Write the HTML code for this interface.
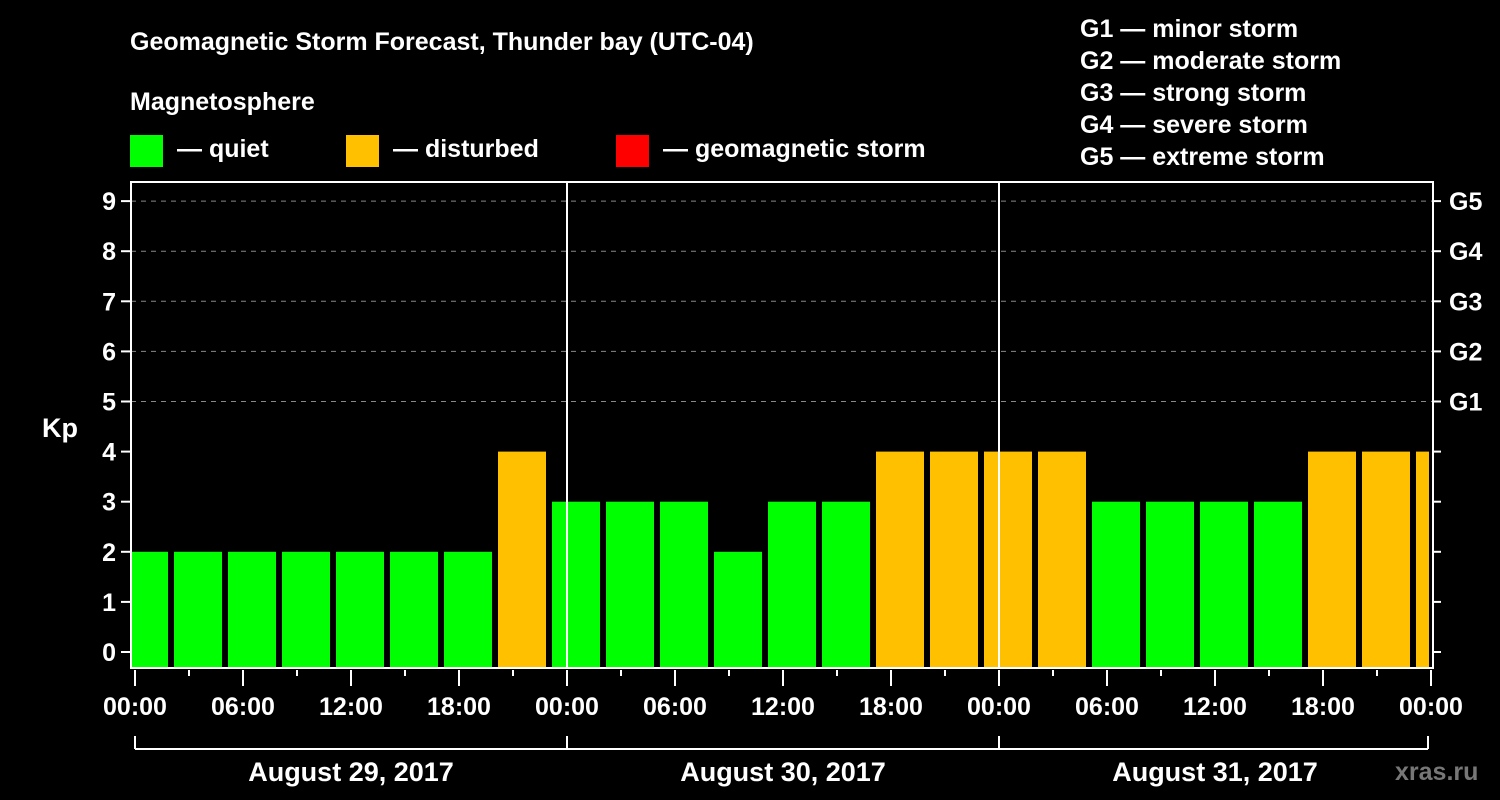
<!DOCTYPE html>
<html><head><meta charset="utf-8"><style>
html,body{margin:0;padding:0;background:#000;}
svg{display:block;font-family:"Liberation Sans",Arial,sans-serif;font-weight:bold;}
</style></head><body>
<svg id="chart" width="1500" height="800" viewBox="0 0 1500 800">
<rect width="1500" height="800" fill="#000"/>
<text x="130" y="50" fill="#fff" font-size="25">Geomagnetic Storm Forecast, Thunder bay (UTC-04)</text>
<text x="130" y="110" fill="#fff" font-size="25">Magnetosphere</text>
<g><rect x="130" y="135" width="33" height="32" fill="#00ff00"/><text x="177" y="157" fill="#fff" font-size="25">— quiet</text></g>
<g><rect x="346" y="135" width="33" height="32" fill="#ffc000"/><text x="393" y="157" fill="#fff" font-size="25">— disturbed</text></g>
<g><rect x="616" y="135" width="33" height="32" fill="#ff0000"/><text x="663" y="157" fill="#fff" font-size="25">— geomagnetic storm</text></g>
<g fill="#fff" font-size="25">
<text x="1080" y="37">G1 — minor storm</text>
<text x="1080" y="69">G2 — moderate storm</text>
<text x="1080" y="101">G3 — strong storm</text>
<text x="1080" y="133">G4 — severe storm</text>
<text x="1080" y="165">G5 — extreme storm</text>
</g>
<text x="42" y="437" fill="#fff" font-size="27">Kp</text>
<g id="grid"></g>
<g id="bars"></g>
<g id="axes"></g>
<text x="1395" y="780" fill="#777" font-size="25">xras.ru</text>
</svg>
<script>
const kpValues = [2,2,2,2,2,2,2,4, 3,3,3,2,3,3,4,4, 4,4,3,3,3,3,4,4, 4];
const yTicks = [0,1,2,3,4,5,6,7,8,9];
const gLabels = ["G1","G2","G3","G4","G5"];
const xTickLabels = ["00:00","06:00","12:00","18:00","00:00","06:00","12:00","18:00","00:00","06:00","12:00","18:00","00:00"];
const dayLabels = ["August 29, 2017","August 30, 2017","August 31, 2017"];

const NS="http://www.w3.org/2000/svg";
const L=131,R=1433,T=182,B=668,X0=135,DAY=432;
const y=v=>652-50.1*v;
const x=h=>X0+h*DAY/24;
function mk(tag,attrs,parent,txt){const e=document.createElementNS(NS,tag);for(const k in attrs)e.setAttribute(k,attrs[k]);if(txt!==undefined)e.textContent=txt;parent.appendChild(e);return e;}
const grid=document.getElementById('grid'),bars=document.getElementById('bars'),axes=document.getElementById('axes');
// clip
const defs=mk('defs',{},document.getElementById('chart'));
const cp=mk('clipPath',{id:'plotclip'},defs);mk('rect',{x:L+1,y:T,width:R-L-1-4,height:B-T},cp);
bars.setAttribute('clip-path','url(#plotclip)');
// grid
for(let v=5;v<=9;v++){const g=mk('line',{x1:L,x2:R,y1:y(v),y2:y(v),stroke:'#888','stroke-dasharray':'5,5','stroke-width':1},grid);

}
// bars
kpValues.forEach((v,i)=>{const c=v>=5?'#ff0000':(v>=4?'#ffc000':'#00ff00');
const left=x(i*3)-15;
const r=mk('rect',{x:left,y:y(v),width:48,height:B-y(v),fill:c},bars);

});
// day separators
for(let d=1;d<3;d++){const l=mk('line',{x1:x(24*d),x2:x(24*d),y1:T,y2:B,stroke:'#fff','stroke-width':2},axes);

}
// frame
const f=mk('rect',{x:L,y:T,width:R-L,height:B-T,fill:'none',stroke:'#fff','stroke-width':2},axes);


// y ticks
yTicks.forEach(v=>{mk('line',{x1:L-10,x2:L,y1:y(v),y2:y(v),stroke:'#fff','stroke-width':2},axes);
mk('line',{x1:R,x2:R+8,y1:y(v),y2:y(v),stroke:'#fff','stroke-width':2},axes);
const t=mk('text',{x:L-15,y:y(v)+9,fill:'#fff','font-size':25,'text-anchor':'end'},axes,String(v));

});
gLabels.forEach((g,i)=>{const t=mk('text',{x:1449,y:y(5+i)+9,fill:'#fff','font-size':25},axes,g);

});
// x ticks
for(let h=0;h<=72;h+=3){const major=h%6===0;
mk('line',{x1:x(h),x2:x(h),y1:B+2,y2:B+(major?18:8),stroke:'#fff','stroke-width':2},axes);}
xTickLabels.forEach((s,i)=>{const t=mk('text',{x:x(i*6),y:715,fill:'#fff','font-size':25,'text-anchor':'middle'},axes,s);

});
// bracket
mk('line',{x1:x(0),x2:x(72)-3,y1:749,y2:749,stroke:'#fff','stroke-width':2},axes);
for(let d=0;d<=3;d++){const xx=d===3?x(72)-3:x(24*d);mk('line',{x1:xx,x2:xx,y1:736,y2:749,stroke:'#fff','stroke-width':2},axes);}
dayLabels.forEach((s,i)=>{const t=mk('text',{x:x(24*i+12),y:781,fill:'#fff','font-size':27,'text-anchor':'middle'},axes,s);

});
</script>
</body></html>
